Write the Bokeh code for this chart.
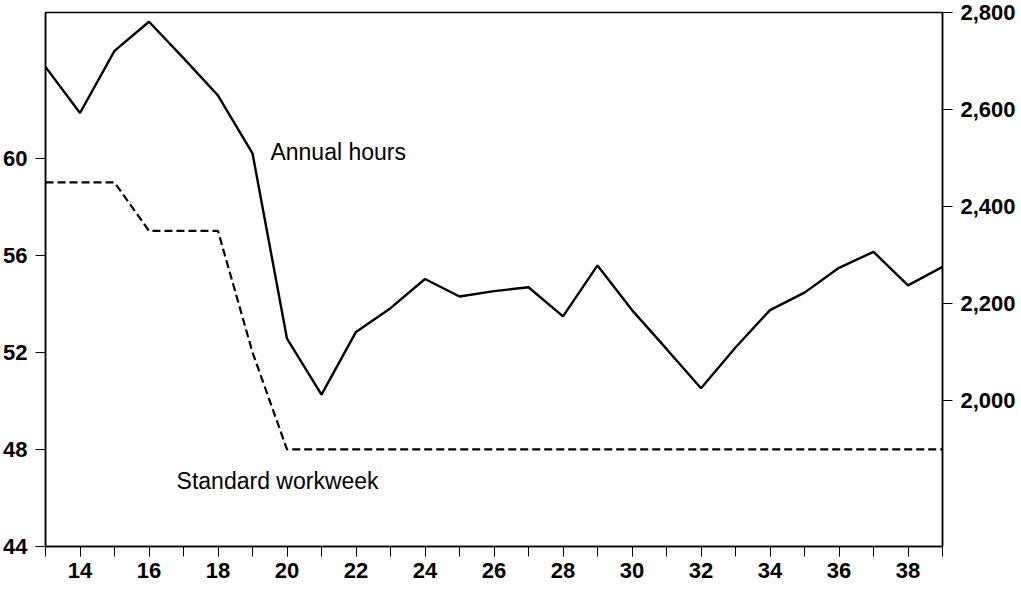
from bokeh.plotting import figure
from bokeh.models import (Range1d, LinearAxis, FixedTicker, NumeralTickFormatter,
                          ColumnDataSource, Label)
from bokeh.embed import file_html
from bokeh.resources import INLINE

years = list(range(13, 40))
standard_workweek = [59, 59, 59, 57, 57, 57, 52, 48, 48, 48, 48, 48, 48, 48,
                     48, 48, 48, 48, 48, 48, 48, 48, 48, 48, 48, 48, 48]
annual_hours = [2688, 2593, 2721, 2781, 2706, 2629, 2510, 2128, 2013, 2142,
                2191, 2251, 2215, 2226, 2234, 2174, 2279, 2187, 2107, 2026,
                2110, 2187, 2223, 2274, 2307, 2238, 2276]
left_ticks = [44, 48, 52, 56, 60]
right_ticks = [2000, 2200, 2400, 2600, 2800]
x_major_ticks = list(range(14, 40, 2))
x_minor_ticks = list(range(13, 40))

FONT = "Liberation Sans"

p = figure(width=1013, height=582, output_backend="svg", toolbar_location=None,
           x_range=Range1d(13, 39), y_range=Range1d(44, 66),
           min_border_left=45, min_border_right=71, min_border_top=12,
           min_border_bottom=36)
p.frame_width = 897
p.frame_height = 534
p.extra_y_ranges = {"hours": Range1d(1700, 2800)}
p.grid.visible = False
p.outline_line_color = "black"
p.outline_line_width = 1.5
p.background_fill_color = "white"
p.border_fill_color = "white"

src = ColumnDataSource(dict(x=years, sw=standard_workweek, ah=annual_hours))
p.line("x", "sw", source=src, line_color="black", line_width=2.2, line_dash="8 4")
p.line("x", "ah", source=src, line_color="black", line_width=2.4, y_range_name="hours")

def style_axis(ax):
    ax.axis_line_color = "black"
    ax.axis_line_width = 1.5
    ax.major_tick_line_color = "black"
    ax.minor_tick_line_color = "black"
    ax.major_tick_in = 0
    ax.major_tick_out = 10
    ax.minor_tick_in = 0
    ax.minor_tick_out = 10
    ax.major_label_text_font = FONT
    ax.major_label_text_font_style = "bold"
    ax.major_label_text_font_size = "22px"
    ax.major_label_text_color = "black"

xax = p.xaxis[0]
xax.ticker = FixedTicker(ticks=x_major_ticks, minor_ticks=x_minor_ticks)
style_axis(xax)
xax.major_label_standoff = 6

yax = p.yaxis[0]
yax.ticker = FixedTicker(ticks=left_ticks)
style_axis(yax)
yax.minor_tick_out = 0
yax.major_label_standoff = 8

rax = LinearAxis(y_range_name="hours", ticker=FixedTicker(ticks=right_ticks),
                 formatter=NumeralTickFormatter(format="0,0"))
style_axis(rax)
rax.minor_tick_out = 0
rax.major_label_standoff = 8
p.add_layout(rax, "right")

p.add_layout(Label(x=19.52, y=60.27, text="Annual hours", text_font=FONT,
                   text_font_size="23px", text_baseline="middle", text_color="black"))
p.add_layout(Label(x=16.8, y=46.7, text="Standard workweek", text_font=FONT,
                   text_font_size="23px", text_baseline="middle", text_color="black"))

open("out.html", "w").write(file_html(p, INLINE))
